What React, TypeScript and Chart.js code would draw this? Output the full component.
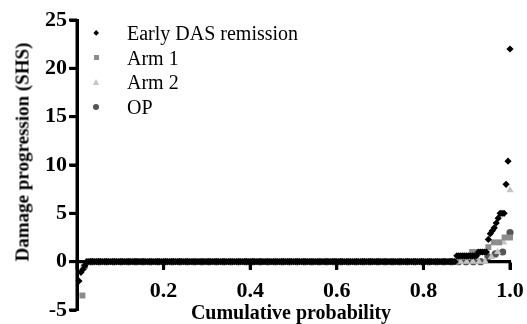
import React, { useEffect, useRef } from 'react';
import { Chart, registerables } from 'chart.js';

Chart.register(...registerables);

const seriesNames = ['Early DAS remission', 'Arm 1', 'Arm 2', 'OP'];
const seriesColors = ['#000000', '#8c8c8c', '#c4c4c4', '#555555'];
const seriesStyles = ['rectRot', 'rect', 'triangle', 'circle'];

// Sorted damage progression (SHS) values, as [value, number of patients]
const earlyDasValues: [number, number][] = [
  [-2, 1], [-1.1, 1], [-0.8, 1], [-0.4, 1], [0, 188], [0.6, 11], [1, 5],
  [2.3, 1], [2.9, 1], [3.2, 1], [3.5, 1], [4, 1], [4.5, 1], [5, 3], [8, 1], [10.4, 1], [22, 1],
];
const arm1Values: [number, number][] = [
  [-3.5, 1], [0, 69], [0.5, 2], [1, 3], [1.5, 1], [2, 2], [2.5, 2],
];
const arm2Values: [number, number][] = [
  [-0.6, 1], [0, 65], [0.5, 1], [1, 1], [2, 1], [7.4, 1],
];
const opValues: [number, number][] = [
  [-0.5, 1], [0, 54], [0.5, 1], [0.8, 1], [1, 1], [3, 1],
];

const yTickStep = 5;
const yMin = -5;
const yMax = 25;
const xMin = 0;
const xMax = 1;
const xTickStep = 0.2;

const xTitle = 'Cumulative probability';
const yTitle = 'Damage progression (SHS)';

const FONT = "'Liberation Serif', 'Times New Roman', serif";

function cumulative(table: [number, number][]) {
  const values: number[] = [];
  table.forEach(([v, c]) => {
    for (let k = 0; k < c; k++) values.push(v);
  });
  const n = values.length;
  return values.map((v, i) => ({ x: (i + 1) / n, y: v }));
}

const tickMarksPlugin = {
  id: 'tickMarks',
  afterDraw(chart: any) {
    const ctx: CanvasRenderingContext2D = chart.ctx;
    const xs = chart.scales.x;
    const ys = chart.scales.y;
    const axisX = xs.getPixelForValue(xMin);
    const axisY = ys.getPixelForValue(0);
    ctx.save();
    ctx.fillStyle = '#000';
    ys.ticks.forEach((t: any) => {
      const py = ys.getPixelForValue(t.value);
      ctx.fillRect(axisX - 8, py - 1.5, 8, 3);
    });
    xs.ticks.forEach((t: any) => {
      const px = xs.getPixelForValue(t.value);
      ctx.fillRect(px - 1.5, axisY, 3, 8);
    });
    ctx.restore();
  },
};

function LegendMarker({ style, color }: { style: string; color: string }) {
  const base: React.CSSProperties = { position: 'absolute', left: 96, top: 0 };
  if (style === 'rectRot') {
    return <div style={{ ...base, width: 4.4, height: 4.4, marginLeft: -2.2, marginTop: -2.2, background: color, transform: 'rotate(45deg)' }} />;
  }
  if (style === 'rect') {
    return <div style={{ ...base, width: 5, height: 5, marginLeft: -2.5, marginTop: -2.5, background: color }} />;
  }
  if (style === 'triangle') {
    return (
      <div
        style={{
          ...base, width: 0, height: 0, marginLeft: -3.5, marginTop: -3.5,
          borderLeft: '3.5px solid transparent', borderRight: '3.5px solid transparent',
          borderBottom: `6px solid ${color}`,
        }}
      />
    );
  }
  return <div style={{ ...base, width: 6, height: 6, marginLeft: -3, marginTop: -3, borderRadius: '50%', background: color }} />;
}

export default function App() {
  const canvasRef = useRef<HTMLCanvasElement>(null);

  useEffect(() => {
    if (!canvasRef.current) return;
    Chart.defaults.font.family = FONT;
    Chart.defaults.color = '#000';
    const datasetsSrc = [earlyDasValues, arm1Values, arm2Values, opValues];
    const radii = [3.6, 4.2, 4.2, 3.6];
    const seriesSets: any[] = datasetsSrc.map((tbl, i) => ({
      label: seriesNames[i],
      data: cumulative(tbl),
      pointStyle: seriesStyles[i] as any,
      pointRadius: radii[i],
      pointBackgroundColor: seriesColors[i],
      pointBorderWidth: 0,
      showLine: false,
      clip: false as any,
      order: 0,
    }));
    const axisSets: any[] = [
      {
        label: 'y axis',
        data: [{ x: xMin, y: yMin }, { x: xMin, y: yMax }],
        showLine: true,
        borderColor: '#000',
        borderWidth: 3,
        pointRadius: 0,
        clip: false as any,
        order: 10,
      },
      {
        label: 'x axis',
        data: [{ x: xMin, y: 0 }, { x: xMax, y: 0 }],
        showLine: true,
        borderColor: '#000',
        borderWidth: 3,
        pointRadius: 0,
        clip: false as any,
        order: 10,
      },
    ];
    const chart = new Chart(canvasRef.current, {
      type: 'scatter',
      data: { datasets: [...seriesSets, ...axisSets] },
      options: {
        responsive: false,
        animation: false,
        events: [],
        layout: { padding: { left: 0, right: 17, top: 20, bottom: 14 } },
        plugins: { legend: { display: false }, tooltip: { enabled: false } },
        scales: {
          x: {
            type: 'linear',
            position: { y: 0 } as any,
            min: xMin,
            max: xMax,
            afterFit: (s: any) => { s.height = 0; s.paddingLeft = 0; s.paddingRight = 0; },
            border: { display: true, color: '#000', width: 3 },
            grid: { drawOnChartArea: false, tickLength: 7, tickWidth: 3, tickColor: '#000' },
            ticks: {
              stepSize: xTickStep,
              padding: 9,
              font: { size: 22, weight: 'bold' },
              color: (c: any) => (c.tick && Math.abs(c.tick.value) < 1e-9 ? 'rgba(0,0,0,0)' : '#000'),
            },
          },
          y: {
            type: 'linear',
            position: 'left',
            min: yMin,
            max: yMax,
            afterFit: (s: any) => { s.width = 77; s.paddingTop = 0; s.paddingBottom = 0; },
            border: { display: true, color: '#000', width: 3 },
            grid: { drawOnChartArea: false, tickLength: 7, tickWidth: 3, tickColor: '#000' },
            ticks: { stepSize: yTickStep, padding: 3, font: { size: 22, weight: 'bold' } },
          },
        },
      },
      plugins: [tickMarksPlugin],
    });
    return () => chart.destroy();
  }, []);

  const textBase: React.CSSProperties = {
    position: 'absolute', fontFamily: FONT, color: '#000', whiteSpace: 'nowrap', pointerEvents: 'none',
  };

  return (
    <div style={{ position: 'fixed', left: 0, top: 0, width: 527, height: 324, background: '#fff', overflow: 'hidden' }}>
      <canvas ref={canvasRef} width={527} height={324} style={{ position: 'absolute', left: 0, top: 0 }} />
      {seriesNames.map((name, i) => {
        const cy = 33 + i * 24.5;
        return (
          <div key={name} style={{ position: 'absolute', left: 0, top: cy, width: 0, height: 0 }}>
            <LegendMarker style={seriesStyles[i]} color={seriesColors[i]} />
            <div style={{ ...textBase, left: 127, top: -9.75, fontSize: 20, lineHeight: '20px' }}>{name}</div>
          </div>
        );
      })}
      <div
        style={{
          ...textBase, left: 291, top: 302, fontSize: 20, lineHeight: '20px', fontWeight: 'bold',
          transform: 'translateX(-50%)',
        }}
      >
        {xTitle}
      </div>
      <div
        style={{
          ...textBase, left: 22, top: 152, fontSize: 19, lineHeight: '19px', fontWeight: 'bold',
          transform: 'translate(-50%, -50%) rotate(-90deg)',
        }}
      >
        {yTitle}
      </div>
    </div>
  );
}
